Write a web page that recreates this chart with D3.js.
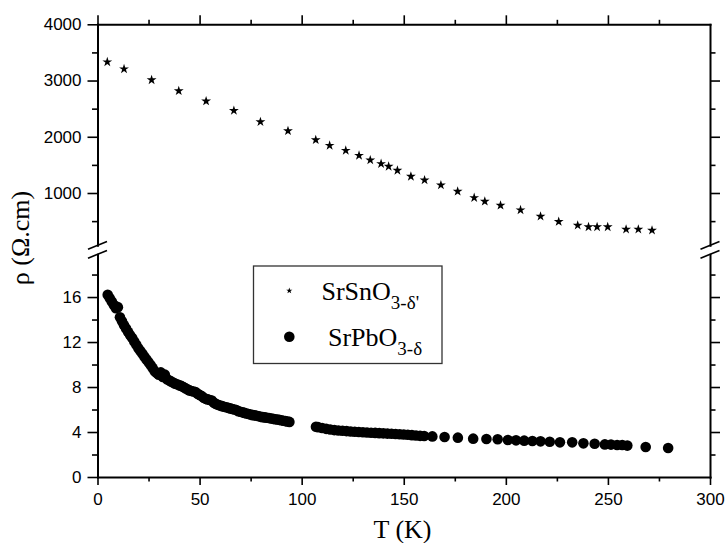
<!DOCTYPE html>
<html>
<head>
<meta charset="utf-8">
<script src="https://cdn.jsdelivr.net/npm/d3@7"></script>
<style>
  body { margin: 0; background: #fff; }
  .tick text { font-family: "Liberation Sans", Arial, sans-serif; font-size: 17px; fill: #000; }
  .serif { font-family: "Liberation Serif", "Times New Roman", serif; fill: #000; }
</style>
</head>
<body>
<svg id="chart" width="725" height="543"></svg>
<script>
// SrSnO3-δ' resistivity (Ω.cm) vs temperature (K)
const starT = [4.8, 13, 26.5, 39.8, 53.2, 66.8, 79.8, 93.3, 106.9, 113.7, 121.6, 128.1, 133.6, 138.9,
  142.6, 146.9, 153.5, 160.2, 168.2, 176.4, 184.5, 189.7, 197.4, 207.2, 217, 225.9, 235.2, 240.5,
  244.7, 249.9, 258.9, 264.9, 271.6];
const starRho = [3330, 3205, 3010, 2815, 2633, 2466, 2265, 2104, 1944, 1845, 1756, 1667, 1585, 1520,
  1472, 1401, 1294, 1230, 1141, 1028, 916, 850, 779, 698, 584, 490, 424, 396, 396, 396, 353, 353, 336];

// SrPbO3-δ resistivity (Ω.cm) vs temperature (K)
const dotT = [5, 6, 7, 8, 9, 10, 11, 12, 13, 14, 15, 16, 17, 18, 19, 20, 21, 22, 23, 24, 25, 26, 27, 28,
  29, 30, 31, 32, 33, 34, 35, 36, 37, 38, 39, 40, 41, 42, 43, 44, 45, 46, 47, 48, 49, 50, 51, 52, 53,
  54, 55, 56, 57, 58, 59, 60, 61, 62, 63, 64, 65, 66, 67, 68, 69, 70, 71, 72, 73, 74, 75, 76, 77, 78,
  79, 80, 81, 82, 83, 84, 85, 86, 87, 88, 89, 90, 91, 92, 93, 94,
  107, 108, 110, 112, 114, 116, 118, 120, 122, 124, 126, 128, 130, 132, 134, 136, 138, 140, 142, 144,
  146, 148, 150, 152, 154, 156, 158, 160, 164, 170, 176.5, 184, 190.5, 196, 201, 205, 209, 213, 217,
  221.5, 226.5, 232.5, 238, 243.5, 248.5, 251.5, 254.5, 257, 259.5, 268.5, 279.5];
const dotRho = [16.2, 15.9, 15.6, 15.3, 15.0, 15.1, 14.2, 13.85, 13.5, 13.2, 12.9, 12.6, 12.35, 12.05,
  11.75, 11.45, 11.2, 10.95, 10.7, 10.45, 10.2, 9.95, 9.7, 9.4, 9.25, 9.1, 9.3, 8.9, 9.1, 8.7, 8.6,
  8.5, 8.4, 8.3, 8.25, 8.15, 8.1, 8.0, 7.9, 7.8, 7.7, 7.65, 7.6, 7.55, 7.4, 7.3, 7.2, 7.05, 6.95, 6.9,
  6.85, 6.8, 6.6, 6.5, 6.42, 6.35, 6.3, 6.25, 6.2, 6.15, 6.1, 6.05, 6.0, 5.95, 5.85, 5.8, 5.75, 5.7,
  5.65, 5.6, 5.55, 5.5, 5.48, 5.45, 5.4, 5.35, 5.32, 5.3, 5.27, 5.24, 5.2, 5.17, 5.14, 5.11, 5.08,
  5.05, 5.0, 4.97, 4.94, 4.9,
  4.47, 4.43, 4.36, 4.28, 4.22, 4.17, 4.14, 4.11, 4.08, 4.05, 4.02, 4.0, 3.98, 3.96, 3.94, 3.92, 3.9,
  3.88, 3.86, 3.84, 3.82, 3.8, 3.78, 3.75, 3.72, 3.69, 3.66, 3.64, 3.61, 3.55, 3.5, 3.41, 3.38, 3.35,
  3.29, 3.26, 3.23, 3.2, 3.17, 3.14, 3.08, 3.08, 2.99, 2.96, 2.9, 2.88, 2.85, 2.85, 2.79, 2.67, 2.58];

// Tick values
const xTicks = [0, 50, 100, 150, 200, 250, 300];
const xMinor = [25, 75, 125, 175, 225, 275];
const upperTicks = [1000, 2000, 3000, 4000];
const upperMinor = [500, 1500, 2500, 3500];
const lowerTicks = [0, 4, 8, 12, 16];
const lowerMinor = [2, 6, 10, 14, 18];

const svg = d3.select("#chart");
const left = 97.5, right = 710;
const fmt = d3.format("d");

const x = d3.scaleLinear().domain([0, 300]).range([left, right]);
// Broken y axis: upper segment (kΩ range) and lower segment (Ω range)
const yUp = d3.scaleLinear().domain([70, 4000]).range([245.3, 24.3]);
const yLo = d3.scaleLinear().domain([0, 19.8]).range([477, 254.3]);

function styleAxis(g, domainWidth) {
  g.select(".domain").attr("stroke", "#000").attr("stroke-width", domainWidth).attr("stroke-linecap", "square");
  g.selectAll(".tick line").attr("stroke", "#000").attr("stroke-width", 1.6);
}
function addAxis(axis, transform, showDomain) {
  const g = svg.append("g").attr("transform", transform).call(axis);
  styleAxis(g, 2);
  if (!showDomain) g.select(".domain").remove();
  return g;
}

// Bottom axis
addAxis(d3.axisBottom(x).tickValues(xTicks).tickFormat(fmt).tickSize(8).tickSizeOuter(0).tickPadding(8), `translate(0,${yLo.range()[0]})`, true);
addAxis(d3.axisBottom(x).tickValues(xMinor).tickSize(4.5).tickFormat(""), `translate(0,${yLo.range()[0]})`, false);
// Top axis
addAxis(d3.axisTop(x).tickValues(xTicks.slice(0, -1)).tickSize(9).tickSizeOuter(0).tickFormat(""), `translate(0,${yUp.range()[1]})`, true);
addAxis(d3.axisTop(x).tickValues(xMinor).tickSize(4.5).tickFormat(""), `translate(0,${yUp.range()[1]})`, false);

// Left axes
addAxis(d3.axisLeft(yUp).tickValues(upperTicks).tickFormat(fmt).tickSize(10).tickSizeOuter(0).tickPadding(6), `translate(${left},0)`, true);
addAxis(d3.axisLeft(yUp).tickValues(upperMinor).tickSize(5.5).tickFormat(""), `translate(${left},0)`, false);
addAxis(d3.axisLeft(yLo).tickValues(lowerTicks).tickFormat(fmt).tickSize(10).tickSizeOuter(0).tickPadding(6), `translate(${left},0)`, true);
addAxis(d3.axisLeft(yLo).tickValues(lowerMinor).tickSize(5.5).tickFormat(""), `translate(${left},0)`, false);

// Right axes
addAxis(d3.axisRight(yUp).tickValues(upperTicks.slice(0, -1)).tickSize(10).tickSizeOuter(0).tickFormat(""), `translate(${right},0)`, true);
addAxis(d3.axisRight(yUp).tickValues(upperMinor).tickSize(5.5).tickFormat(""), `translate(${right},0)`, false);
addAxis(d3.axisRight(yLo).tickValues(lowerTicks.slice(1)).tickSize(10).tickSizeOuter(0).tickFormat(""), `translate(${right},0)`, true);
addAxis(d3.axisRight(yLo).tickValues(lowerMinor).tickSize(5.5).tickFormat(""), `translate(${right},0)`, false);

// Axis break marks
const breakY = (yUp.range()[0] + yLo.range()[1]) / 2;
[left, right].forEach(ax => {
  [-4.5, 4.5].forEach(off => {
    svg.append("line")
      .attr("x1", ax - 9.5).attr("y1", breakY + off + 3.85)
      .attr("x2", ax + 9.5).attr("y2", breakY + off - 3.85)
      .attr("stroke", "#000").attr("stroke-width", 1.6);
  });
});

// SrSnO3-δ' points (stars)
const star = d3.symbol().type(d3.symbolStar).size(30);
svg.append("g").selectAll("path")
  .data(starT.map((t, i) => [t, starRho[i]]))
  .join("path")
  .attr("d", star)
  .attr("transform", d => `translate(${x(d[0])},${yUp(d[1])})`)
  .attr("fill", "#000");

// SrPbO3-δ points (filled circles)
svg.append("g").selectAll("circle")
  .data(dotT.map((t, i) => [t, dotRho[i]]))
  .join("circle")
  .attr("cx", d => x(d[0]))
  .attr("cy", d => yLo(d[1]))
  .attr("r", 5.3)
  .attr("fill", "#000");

// Legend
const lg = svg.append("g");
lg.append("rect").attr("x", 253.5).attr("y", 266).attr("width", 188.5).attr("height", 97.5)
  .attr("fill", "#fff").attr("stroke", "#333").attr("stroke-width", 1.3);
lg.append("path").attr("d", d3.symbol().type(d3.symbolStar).size(12)())
  .attr("transform", "translate(289.3,290.7)").attr("fill", "#000");
lg.append("circle").attr("cx", 289.3).attr("cy", 336.7).attr("r", 5.3).attr("fill", "#000");

const t1 = lg.append("text").attr("class", "serif").attr("x", 321.5).attr("y", 300).attr("font-size", 26);
t1.append("tspan").text("SrSnO");
t1.append("tspan").attr("dy", 9).attr("font-size", 19).text("3-δ'");
const t2 = lg.append("text").attr("class", "serif").attr("x", 328).attr("y", 346).attr("font-size", 26);
t2.append("tspan").text("SrPbO");
t2.append("tspan").attr("dy", 9).attr("font-size", 19).text("3-δ");

// Axis titles
svg.append("text").attr("class", "serif").attr("x", 402.5).attr("y", 538)
  .attr("text-anchor", "middle").attr("font-size", 26).text("T (K)");
svg.append("text").attr("class", "serif")
  .attr("transform", "translate(29,238) rotate(-90)")
  .attr("text-anchor", "middle").attr("font-size", 26).text("ρ (Ω.cm)");
</script>
</body>
</html>
